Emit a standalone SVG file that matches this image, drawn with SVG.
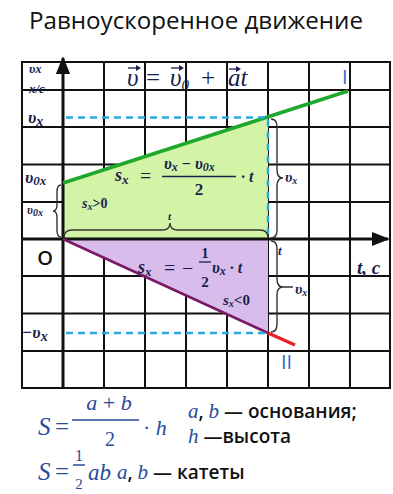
<svg xmlns="http://www.w3.org/2000/svg" width="393" height="494" viewBox="0 0 393 494">
<defs>
<style>
.grid{stroke:#111;stroke-width:2;fill:none}
.axis{stroke:#111;stroke-width:3;fill:none}
.brace{stroke:#333;stroke-width:1.4;fill:none}
.m{font-family:"Liberation Serif","DejaVu Serif",serif;font-style:italic;fill:#1a1f4e}
.p{font-weight:bold}
.mb{font-family:"Liberation Serif","DejaVu Serif",serif;font-style:italic;font-weight:normal;fill:#2a4a9a}
.n{font-style:normal}
.s{font-family:"Open Sans","Liberation Sans",sans-serif;fill:#111}
.roman{font-family:"Open Sans","Liberation Sans",sans-serif;fill:#2a6ad0}
.vec{stroke:#1a1f4e;stroke-width:1.3;fill:none}
.vh{fill:#1a1f4e}
</style>
<marker id="ah" viewBox="0 0 10 10" refX="9" refY="5" markerWidth="6" markerHeight="6" orient="auto-start-reverse"><path d="M0,1 L10,5 L0,9 Z" fill="#111"/></marker>
</defs>
<rect width="393" height="494" fill="#fff"/>
<g id="title"><text class="s" x="196" y="29" font-size="23" text-anchor="middle" textLength="334" lengthAdjust="spacingAndGlyphs">Равноускоренное движение</text></g>

<g id="grid">
<rect class="grid" x="22" y="62" width="368" height="326"/>
<path class="grid" d="M104,62V388M145,62V388M186,62V388M227,62V388M268,62V388M309,62V388M350,62V388M22,90H390M22,127H390M22,164.5H390M22,202H390M22,276H390M22,313.5H390M22,351H390"/>
</g>

<g id="areas">
<polygon points="63,183 268,117 268,239 63,239" fill="#d3f4a6"/>
<polygon points="63,239 268,239 268,333" fill="#d8bdec"/>
</g>

<g id="connectors">
<path class="axis" d="M63,388V58" marker-end="url(#ah)"/>
<path class="axis" d="M22,239H388" marker-end="url(#ah)"/>
<line x1="63" y1="183" x2="348" y2="91" stroke="#1fa82c" stroke-width="3.5"/>
<line x1="63" y1="239" x2="268" y2="333" stroke="#7a1a66" stroke-width="2.5"/>
<line x1="268" y1="333" x2="295" y2="345" stroke="#e8202a" stroke-width="3.5"/>
<path d="M66,117.5H268V239" stroke="#2aa8e0" stroke-width="2.5" stroke-dasharray="7,5" fill="none"/>
<path d="M66,333H268" stroke="#2aa8e0" stroke-width="2.5" stroke-dasharray="7,5" fill="none"/>
</g>

<g id="braces">
<path class="brace" d="M271,119 Q277,119 277,127 L277,170 Q277,178 283,178 Q277,178 277,186 L277,230 Q277,238 271,238"/>
<path class="brace" d="M271,241 Q277,241 277,249 L277,279 Q277,287 283,287 Q277,287 277,295 L277,324 Q277,332 271,332 M283,287 H293"/>
<path class="brace" d="M61,185 Q57,185 57,192 L57,204 Q57,211 53,211 Q57,211 57,218 L57,230 Q57,237 61,237"/>
<path class="brace" stroke="#222" stroke-width="2" d="M64,238 Q64,230 72,230 L162,230 Q170,230 170,223 Q170,230 178,230 L260,230 Q268,230 268,238"/>
</g>

<g id="axis-labels">
<text class="m p" x="29" y="73" font-size="13">υ<tspan font-size="12">x</tspan></text>
<text class="m p" x="29" y="93" font-size="13">x/c</text>
<text class="m p" x="28" y="123" font-size="17">υ<tspan font-size="14" dy="3">x</tspan></text>
<text class="m p" x="25" y="183" font-size="17">υ<tspan font-size="13" dy="2">0x</tspan></text>
<text class="m p" x="27" y="214" font-size="12">υ<tspan font-size="10" dy="2">0x</tspan></text>
<text class="s" x="45" y="265" font-size="20" font-weight="600" text-anchor="middle">O</text>
<text class="m p" x="22" y="338" font-size="17">−υ<tspan font-size="14" dy="3">x</tspan></text>
<text class="m p" x="357" y="274" font-size="19">t, c</text>
<text class="roman" x="342" y="84" font-size="20">I</text>
<text class="roman" x="281" y="369" font-size="20">II</text>
</g>

<g id="formula-top">
<text class="m" x="127" y="86" font-size="25">υ</text>
<path class="vec" d="M128,68H138"/><path class="vh" d="M141,68 L136,65 L136,71 Z"/>
<text class="m n" x="146" y="86" font-size="25">=</text>
<text class="m" x="170" y="86" font-size="25">υ<tspan font-size="15" dy="4">0</tspan></text>
<path class="vec" d="M171,68H181"/><path class="vh" d="M184,68 L179,65 L179,71 Z"/>
<text class="m n" x="201" y="86" font-size="25">+</text>
<text class="m" x="228" y="86" font-size="25">at</text>
<path class="vec" d="M229,69H238"/><path class="vh" d="M241,69 L236,66 L236,72 Z"/>
</g>

<g id="area-positive">
<text class="m p" x="115" y="181" font-size="18">s<tspan font-size="13" dy="3">x</tspan></text>
<text class="m n" x="140" y="183" font-size="20">=</text>
<text class="m p" x="164" y="169" font-size="16">υ<tspan font-size="12" dy="2">x</tspan><tspan dy="-2" class="n"> − </tspan>υ<tspan font-size="12" dy="2">0x</tspan></text>
<line x1="162" y1="176.5" x2="236" y2="176.5" stroke="#1a1f4e" stroke-width="1.5"/>
<text class="m n p" x="199" y="195" font-size="17" text-anchor="middle">2</text>
<text class="m p" x="241" y="182" font-size="16">· t</text>
<text class="m p" x="82" y="208" font-size="14">s<tspan font-size="10" dy="2">x</tspan><tspan dy="-2" class="n">&gt;0</tspan></text>
<text class="m p" x="168" y="220" font-size="11">t</text>
<text class="m p" x="285" y="182" font-size="15">υ<tspan font-size="10" dy="2">x</tspan></text>
</g>

<g id="area-negative">
<text class="m p" x="138" y="273" font-size="18">s<tspan font-size="13" dy="3">x</tspan></text>
<text class="m n" x="164" y="275" font-size="20">=</text>
<text class="m n" x="182" y="275" font-size="20">−</text>
<text class="m n p" x="205" y="258" font-size="15" text-anchor="middle">1</text>
<line x1="199" y1="262" x2="211" y2="262" stroke="#1a1f4e" stroke-width="1.3"/>
<text class="m n p" x="205" y="287" font-size="15" text-anchor="middle">2</text>
<text class="m p" x="212" y="273" font-size="16">υ<tspan font-size="12" dy="2">x</tspan><tspan dy="-2"> · t</tspan></text>
<text class="m p" x="223" y="305" font-size="15">s<tspan font-size="10" dy="2">x</tspan><tspan dy="-2" class="n">&lt;0</tspan></text>
<text class="m p" x="278" y="255" font-size="13">t</text>
<text class="m p" x="295" y="294" font-size="15">υ<tspan font-size="10" dy="2">x</tspan></text>
</g>

<g id="notes">
<text class="mb" x="38" y="435" font-size="25">S</text>
<text class="mb n" x="55" y="435" font-size="25">=</text>
<text class="mb" x="109" y="410" font-size="22" text-anchor="middle">a <tspan class="n">+</tspan> b</text>
<line x1="72" y1="420" x2="139" y2="420" stroke="#2a4a9a" stroke-width="1.7"/>
<text class="mb n" x="110" y="446" font-size="20" text-anchor="middle">2</text>
<text class="mb" x="143" y="435" font-size="22"><tspan class="n">·</tspan> h</text>
<text class="s" x="188" y="418" font-size="19" font-weight="600"><tspan class="mb" font-size="21">a</tspan>, <tspan class="mb" font-size="21">b</tspan> — основания;</text>
<text class="s" x="188" y="443" font-size="19" font-weight="600"><tspan class="mb" font-size="21">h</tspan> —высота</text>
<text class="mb" x="38" y="480" font-size="25">S</text>
<text class="mb n" x="55" y="480" font-size="25">=</text>
<text class="mb n" x="79" y="461" font-size="16" text-anchor="middle">1</text>
<line x1="73" y1="465" x2="85" y2="465" stroke="#2a4a9a" stroke-width="1.5"/>
<text class="mb n" x="79" y="489" font-size="15" text-anchor="middle">2</text>
<text class="mb" x="88" y="480" font-size="23">ab</text>
<text class="s" x="117" y="479" font-size="19" font-weight="600"><tspan class="mb" font-size="21">a</tspan>, <tspan class="mb" font-size="21">b</tspan> — катеты</text>
</g>
</svg>
